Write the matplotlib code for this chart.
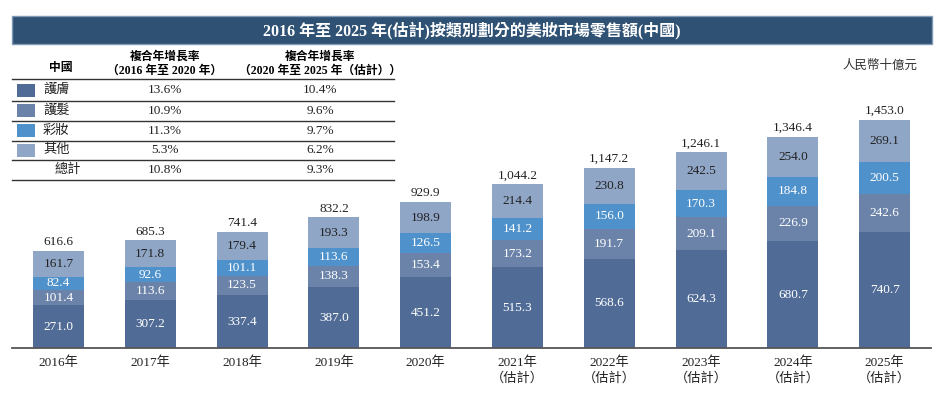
import matplotlib
matplotlib.use("Agg")
from matplotlib import pyplot as plt
from matplotlib.patches import Rectangle
import numpy as np

plt.rcParams['font.family'] = ['Liberation Serif', 'Noto Sans CJK TC', 'DejaVu Sans']

# data (RMB bn)
years = ['2016年', '2017年', '2018年', '2019年', '2020年',
         '2021年\n（估計）', '2022年\n（估計）', '2023年\n（估計）',
         '2024年\n（估計）', '2025年\n（估計）']
skincare = [271.0, 307.2, 337.4, 387.0, 451.2, 515.3, 568.6, 624.3, 680.7, 740.7]
haircare = [101.4, 113.6, 123.5, 138.3, 153.4, 173.2, 191.7, 209.1, 226.9, 242.6]
makeup = [82.4, 92.6, 101.1, 113.6, 126.5, 141.2, 156.0, 170.3, 184.8, 200.5]
others = [161.7, 171.8, 179.4, 193.3, 198.9, 214.4, 230.8, 242.5, 254.0, 269.1]
totals = [616.6, 685.3, 741.4, 832.2, 929.9, 1044.2, 1147.2, 1246.1, 1346.4, 1453.0]

categories = ['護膚', '護髮', '彩妝', '其他']
cagr_16_20 = ['13.6%', '10.9%', '11.3%', '5.3%']
cagr_20_25 = ['10.4%', '9.6%', '9.7%', '6.2%']
total_cagr = ['10.8%', '9.3%']

colors = ['#506b96', '#6b83a9', '#4f92cb', '#90a6c6']
label_colors = ['white', 'white', 'white', '#222222']

W, H = 946, 397
fig = plt.figure(figsize=(W / 100, H / 100), dpi=100)

# bar axes
ax = fig.add_axes([12 / W, 49 / H, 919 / W, 248 / H])
x = np.arange(len(years))
series = [skincare, haircare, makeup, others]
bottom = np.zeros(len(years))
for vals, c, lc in zip(series, colors, label_colors):
    vals = np.array(vals)
    ax.bar(x, vals, 0.556, bottom=bottom, color=c, edgecolor='none')
    for xi, b, v in zip(x, bottom, vals):
        ax.text(xi, b + v / 2, f'{v:.1f}', ha='center', va='center',
                color=lc, fontsize=9.5)
    bottom += vals

for xi, t in zip(x, totals):
    ax.annotate(f'{t:,.1f}', (xi, t), xytext=(0, 2), textcoords='offset points',
                ha='center', va='bottom', fontsize=9.5, color='#222222')

ax.set_xlim(-0.507, 9.505)
ax.set_ylim(0, 1580)
ax.set_xticks(x)
ax.set_xticklabels(years, fontsize=9.5, color='#222222', linespacing=1.3)
ax.tick_params(axis='x', length=0, pad=6)
ax.set_yticks([])
for s in ['top', 'left', 'right']:
    ax.spines[s].set_visible(False)
ax.spines['bottom'].set_color('#555555')
ax.spines['bottom'].set_linewidth(1.3)
ax.patch.set_visible(False)

# overlay in pixel coords for title and table
ov = fig.add_axes([0, 0, 1, 1])
ov.set_xlim(0, W)
ov.set_ylim(H, 0)
ov.axis('off')
ov.patch.set_visible(False)

ov.add_patch(Rectangle((12, 16), 920, 28, facecolor='#2e5174',
                       edgecolor='#8199b4', linewidth=1))
ov.text(472, 30.5, '2016 年至 2025 年(估計)按類別劃分的美妝市場零售額(中國)',
        ha='center', va='center', color='white', fontsize=11.5, fontweight='bold')

ov.text(880, 66, '人民幣十億元', ha='center', va='center', fontsize=9, color='#333333')

# table
ov.text(61, 68, '中國', ha='center', va='center', fontsize=8.5, fontweight='bold')
ov.text(165, 63.5, '複合年增長率\n（2016 年至 2020 年）', ha='center', va='center',
        fontsize=8.5, fontweight='bold', linespacing=1.25)
ov.text(320, 63.5, '複合年增長率\n（2020 年至 2025 年（估計））', ha='center', va='center',
        fontsize=8.5, fontweight='bold', linespacing=1.25)

lines_y = [79.3, 100.7, 121, 140.7, 160, 180]
for ly in lines_y:
    ov.plot([12, 394], [ly, ly], color='#333333', lw=1)

row_y = [(a + b) / 2 for a, b in zip(lines_y[:-1], lines_y[1:])]
for i, (cat, c1, c2) in enumerate(zip(categories, cagr_16_20, cagr_20_25)):
    y = row_y[i]
    ov.add_patch(Rectangle((17, y - 6.5), 18, 13, facecolor=colors[i], edgecolor='none'))
    ov.text(43, y, cat, ha='left', va='center', fontsize=9.5, color='#222222')
    ov.text(165, y, c1, ha='center', va='center', fontsize=9.5, color='#222222')
    ov.text(320, y, c2, ha='center', va='center', fontsize=9.5, color='#222222')

ov.text(55, row_y[4], '總計', ha='left', va='center', fontsize=9.5, color='#222222')
ov.text(165, row_y[4], total_cagr[0], ha='center', va='center', fontsize=9.5, color='#222222')
ov.text(320, row_y[4], total_cagr[1], ha='center', va='center', fontsize=9.5, color='#222222')

fig.savefig('out.png', dpi=100)
